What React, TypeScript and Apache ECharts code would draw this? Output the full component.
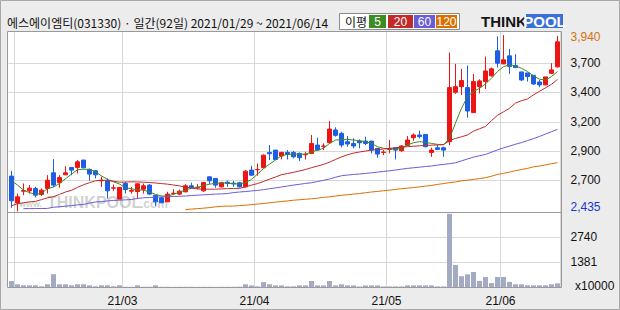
import React, { useEffect, useRef } from "react";
import * as echarts from "echarts";

const titleText = "에스에이엠티(031330) · 일간(92일) 2021/01/29 ~ 2021/06/14";

// [open, close, low, high] per trading day (2021/01/29 .. 2021/06/14)
const candles: number[][] = [
  [2736, 2525, 2465, 2781], [2507, 2559, 2435, 2587], [2607, 2613, 2573, 2673], [2610, 2633, 2587, 2659], [2630, 2573, 2553, 2644],
  [2579, 2616, 2567, 2630], [2630, 2701, 2587, 2744], [2764, 2659, 2644, 2881], [2679, 2724, 2636, 2744], [2747, 2764, 2747, 2821],
  [2810, 2787, 2744, 2810], [2810, 2858, 2758, 2873], [2873, 2807, 2801, 2873], [2793, 2753, 2696, 2801], [2781, 2747, 2716, 2787],
  [2696, 2701, 2644, 2730], [2696, 2610, 2544, 2716], [2633, 2636, 2610, 2664], [2539, 2639, 2539, 2639], [2673, 2621, 2587, 2687],
  [2607, 2613, 2587, 2644], [2604, 2670, 2545, 2673], [2624, 2653, 2587, 2673], [2659, 2582, 2573, 2667], [2573, 2516, 2482, 2573],
  [2550, 2508, 2508, 2559], [2516, 2582, 2516, 2602], [2587, 2590, 2573, 2624], [2582, 2607, 2573, 2621], [2602, 2653, 2596, 2667],
  [2653, 2639, 2630, 2679], [2636, 2641, 2624, 2667], [2610, 2681, 2602, 2687], [2730, 2696, 2667, 2730], [2716, 2659, 2636, 2716],
  [2644, 2679, 2639, 2687], [2684, 2673, 2644, 2696], [2676, 2670, 2644, 2696], [2679, 2644, 2639, 2687], [2644, 2778, 2639, 2787],
  [2787, 2744, 2739, 2824], [2790, 2793, 2739, 2844], [2807, 2915, 2807, 2921], [2938, 2927, 2873, 3001], [2958, 2878, 2873, 2958],
  [2907, 2938, 2878, 2944], [2938, 2921, 2878, 2958], [2938, 2901, 2887, 2950], [2930, 2893, 2864, 2938], [2918, 2921, 2878, 2944],
  [2930, 3015, 2924, 3087], [3001, 2958, 2958, 3064], [2990, 2993, 2958, 3015], [3021, 3138, 3015, 3206], [3130, 3084, 3073, 3152],
  [3101, 3001, 2981, 3115], [3030, 3010, 2987, 3078], [3015, 2993, 2973, 3058], [3035, 3021, 2973, 3050], [3035, 3015, 3001, 3072],
  [3035, 2958, 2930, 3035], [2973, 2924, 2893, 2973], [2938, 2941, 2915, 2958], [2964, 2970, 2930, 3044], [2978, 2958, 2878, 2978],
  [2953, 2993, 2944, 3001], [2998, 3044, 2993, 3078], [3064, 3087, 3038, 3101], [3087, 3073, 3058, 3124], [3092, 2987, 2981, 3092],
  [2938, 2958, 2901, 2978], [2978, 2964, 2958, 3001], [2978, 2958, 2901, 2987], [3030, 3492, 3001, 3791], [3452, 3500, 3438, 3694],
  [3500, 3552, 3429, 3652], [3492, 3292, 3235, 3680], [3278, 3543, 3278, 3609], [3500, 3549, 3443, 3563], [3543, 3634, 3480, 3757],
  [3592, 3652, 3586, 3663], [3806, 3700, 3663, 3930], [3694, 3729, 3694, 3940], [3763, 3671, 3609, 3823], [3680, 3663, 3663, 3777],
  [3626, 3557, 3549, 3626], [3617, 3586, 3543, 3617], [3597, 3523, 3515, 3597], [3540, 3515, 3495, 3557], [3515, 3583, 3515, 3583],
  [3614, 3643, 3609, 3700], [3669, 3883, 3663, 3934],
];

// volume, x10000 shares
const volumes: number[] = [
  365, 190, 135, 135, 135, 80, 190, 740, 190, 190,
  135, 190, 190, 135, 80, 135, 135, 80, 135, 55,
  55, 135, 55, 55, 135, 55, 55, 50, 55, 55,
  55, 50, 55, 55, 50, 55, 55, 55, 60, 190,
  130, 80, 310, 190, 130, 130, 80, 80, 130, 130,
  370, 130, 130, 370, 130, 190, 130, 130, 75, 130,
  130, 130, 75, 75, 75, 75, 130, 130, 130, 130,
  130, 75, 75, 4020, 1235, 630, 730, 860, 375, 585,
  255, 585, 585, 320, 190, 190, 135, 135, 135, 135,
  190, 240,
];

const ma5: (number | null)[] = [
  2697, 2659, 2616, 2595, 2580, 2587, 2630, 2642, 2673, 2713,
  2753, 2790, 2795, 2793, 2773, 2737, 2708, 2687, 2668, 2637,
  2627, 2619, 2616, 2600, 2580, 2566, 2565, 2580, 2598, 2619,
  2632, 2640, 2654, 2667, 2673, 2679, 2676, 2670, 2668, 2681,
  2707, 2753, 2801, 2838, 2873, 2910, 2921, 2924, 2924, 2924,
  2941, 2958, 2973, 3015, 3044, 3047, 3050, 3044, 3038, 3030,
  3015, 2987, 2973, 2967, 2967, 2973, 3001, 3021, 3030, 3024,
  3015, 3007, 3004, 3058, 3190, 3315, 3415, 3457, 3486, 3523,
  3572, 3629, 3671, 3686, 3677, 3657, 3629, 3592, 3563, 3557,
  3586, 3629,
];

const ma20: (number | null)[] = [
  2483, 2500, 2508, 2516, 2520, 2535, 2550, 2560, 2580, 2600,
  2615, 2640, 2662, 2680, 2696, 2700, 2700, 2692, 2684, 2685,
  2687, 2686, 2684, 2681, 2677, 2672, 2667, 2660, 2652, 2643,
  2633, 2626, 2624, 2624, 2624, 2626, 2629, 2630, 2631, 2644,
  2659, 2672, 2690, 2710, 2728, 2748, 2758, 2768, 2780, 2792,
  2808, 2822, 2836, 2855, 2878, 2900, 2918, 2932, 2942, 2950,
  2958, 2963, 2968, 2973, 2977, 2983, 2987, 2991, 2995, 2998,
  3000, 3002, 3005, 3040, 3058, 3072, 3087, 3120, 3140, 3160,
  3210, 3255, 3285, 3315, 3360, 3380, 3395, 3430, 3460, 3490,
  3520, 3562,
];

const ma60: (number | null)[] = [
  null, null, 2458, 2458, 2459, 2459, 2460, 2470, 2474, 2479,
  2484, 2490, 2494, 2505, 2515, 2519, 2524, 2528, 2530, 2533,
  2536, 2545, 2551, 2553, 2556, 2558, 2560, 2562, 2564, 2566,
  2570, 2573, 2576, 2579, 2582, 2584, 2587, 2595, 2600, 2604,
  2609, 2614, 2620, 2628, 2635, 2643, 2651, 2659, 2666, 2673,
  2679, 2690, 2700, 2711, 2726, 2739, 2745, 2750, 2754, 2759,
  2764, 2770, 2776, 2781, 2788, 2795, 2802, 2807, 2812, 2818,
  2822, 2830, 2836, 2842, 2850, 2866, 2882, 2898, 2910, 2921,
  2940, 2960, 2977, 2992, 3008, 3022, 3039, 3056, 3075, 3095,
  3115, 3135,
];

const ma120: (number | null)[] = [
  null, null, null, null, null, null, null, null, null, null,
  null, null, null, null, null, null, null, null, null, null,
  null, null, null, null, null, null, null, null, null, 2450,
  2454, 2458, 2462, 2467, 2473, 2478, 2479, 2480, 2484, 2487,
  2492, 2497, 2502, 2508, 2514, 2519, 2524, 2530, 2534, 2538,
  2542, 2548, 2554, 2559, 2566, 2572, 2577, 2582, 2587, 2594,
  2600, 2605, 2611, 2616, 2622, 2628, 2633, 2638, 2644, 2650,
  2656, 2665, 2672, 2680, 2686, 2695, 2701, 2708, 2715, 2722,
  2735, 2750, 2760, 2770, 2782, 2792, 2802, 2815, 2822, 2832,
  2842, 2850,
];

const priceTickValues = [3700, 3450, 3200, 2950, 2700];
const priceTickLabels = ["3,700", "3,400", "3,200", "2,900", "2,700"];
const priceHigh = 3940;
const priceHighLabel = "3,940";
const priceLow = 2435;
const priceLowLabel = "2,435";
const volTickValues = [2740, 1381];
const volTickLabels = ["2740", "1381"];
const volUnitLabel = "x10000";
const monthGridIdx = [1, 19, 41, 63, 82];
const monthLabelIdx = [19, 41, 63, 82];
const monthLabels = ["21/03", "21/04", "21/05", "21/06"];
const maNames = ["5", "20", "60", "120"];
const legendTitle = "이평";

const UP = "#ee1414";
const DOWN = "#1c5ee6";
const MA_COLORS = ["#3c8c22", "#c22a2a", "#6a5bd8", "#dc6e00"];
const GRID = "#d8d8d8";
const FRAME = "#9a9a9a";
const CLEAR = "rgba(255,255,255,0)";
const NUM_FONT = '"Liberation Sans", Arial, sans-serif';
const KR_FONT = '"Noto Sans CJK KR", sans-serif';

const dayIdx = candles.map((_, i) => String(i));

function buildOption(): any {
  const maSeries = [ma5, ma20, ma60, ma120].map((d, k) => ({
    type: "line",
    name: "MA" + maNames[k],
    xAxisIndex: 0,
    yAxisIndex: 0,
    data: d,
    showSymbol: false,
    symbol: "none",
    z: 4,
    silent: true,
    lineStyle: { color: MA_COLORS[k], width: 1 },
  }));

  const markLabel = {
    show: true,
    position: "end",
    distance: 10,
    color: "#111",
    fontSize: 12,
    fontFamily: NUM_FONT,
  };

  const legendX = [369, 388, 414, 436];
  const legendW = [17, 25, 21, 21];

  return {
    animation: false,
    backgroundColor: "#ececec",
    grid: [
      { left: 8.5, top: 31.5, width: 552, height: 181, outerBoundsMode: "none" },
      { left: 8.5, top: 212.5, width: 552, height: 75.3, outerBoundsMode: "none" },
    ],
    xAxis: [
      {
        type: "category",
        gridIndex: 0,
        data: dayIdx,
        boundaryGap: true,
        axisLine: { show: false },
        axisTick: { show: false },
        axisLabel: { show: false },
        splitLine: { show: true, interval: (i: number) => monthGridIdx.includes(i), lineStyle: { color: GRID, width: 1 } },
      },
      {
        type: "category",
        gridIndex: 1,
        data: dayIdx,
        boundaryGap: true,
        axisLine: { show: false },
        axisTick: { show: false },
        axisLabel: {
          show: true,
          interval: (i: number) => monthLabelIdx.includes(i),
          formatter: (_v: string, i: number) => {
            const k = monthLabelIdx.indexOf(i);
            return k >= 0 ? monthLabels[k] : "";
          },
          margin: 7,
          color: "#111",
          fontSize: 12,
          fontFamily: NUM_FONT,
          padding: [0, 6, 0, 0],
        },
        splitLine: { show: true, interval: (i: number) => monthGridIdx.includes(i), lineStyle: { color: GRID, width: 1 } },
      },
    ],
    yAxis: [
      {
        type: "value",
        gridIndex: 0,
        min: 2425,
        max: 3971,
        axisLine: { show: false },
        axisTick: { show: false },
        axisLabel: { show: false },
        splitLine: { show: false },
      },
      {
        type: "value",
        gridIndex: 1,
        min: 0,
        max: 4090,
        axisLine: { show: false },
        axisTick: { show: false },
        axisLabel: { show: false },
        splitLine: { show: false },
      },
    ],
    series: [
      {
        type: "line",
        xAxisIndex: 0,
        yAxisIndex: 0,
        data: [],
        z: 1,
        silent: true,
        markLine: {
          silent: true,
          symbol: "none",
          z: 1,
          animation: false,
          lineStyle: { color: GRID, width: 1, type: "solid" },
          label: markLabel,
          emphasis: { disabled: true },
          data: [
            ...priceTickValues.map((v, k) => ({ yAxis: v, label: { formatter: priceTickLabels[k] } })),
            { yAxis: priceHigh, lineStyle: { color: CLEAR }, label: { formatter: priceHighLabel, color: "#d4730f", offset: [0, 2] } },
            { yAxis: priceLow, lineStyle: { color: CLEAR }, label: { formatter: priceLowLabel, color: "#1a35d0", offset: [0, -4] } },
          ],
        },
      },
      {
        type: "line",
        xAxisIndex: 1,
        yAxisIndex: 1,
        data: [],
        z: 1,
        silent: true,
        markLine: {
          silent: true,
          symbol: "none",
          z: 1,
          animation: false,
          lineStyle: { color: GRID, width: 1, type: "solid" },
          label: markLabel,
          emphasis: { disabled: true },
          data: volTickValues.map((v, k) => ({ yAxis: v, label: { formatter: volTickLabels[k] } })),
        },
      },
      {
        type: "candlestick",
        xAxisIndex: 0,
        yAxisIndex: 0,
        data: candles,
        barWidth: 4,
        z: 3,
        silent: true,
        itemStyle: { color: UP, color0: DOWN, borderColor: UP, borderColor0: DOWN, borderWidth: 1 },
      },
      ...maSeries,
      {
        type: "bar",
        xAxisIndex: 1,
        yAxisIndex: 1,
        data: volumes,
        barWidth: 5,
        z: 3,
        silent: true,
        itemStyle: { color: "#a2aac4" },
      },
    ],
    graphic: [
      { type: "rect", z: -20, silent: true, shape: { x: 0.5, y: 0.5, width: 619, height: 309 }, style: { fill: "#ececec", stroke: "#a8a8a8", lineWidth: 1 } },
      { type: "rect", z: -10, silent: true, shape: { x: 7.5, y: 31.5, width: 554, height: 256 }, style: { fill: "#ffffff" } },
      { type: "rect", z: 50, silent: true, shape: { x: 7.5, y: 31.5, width: 554, height: 256 }, style: { fill: "none", stroke: FRAME, lineWidth: 1 } },
      { type: "line", z: 50, silent: true, shape: { x1: 7.5, y1: 212.5, x2: 561.5, y2: 212.5 }, style: { stroke: FRAME, lineWidth: 1 } },
      {
        type: "text", z: 2, silent: true, x: 19, y: 204,
        style: { text: "www.", fill: "rgba(150,150,150,0.45)", font: `bold 9px ${NUM_FONT}`, verticalAlign: "middle" },
      },
      {
        type: "text", z: 2, silent: true, x: 47, y: 202,
        style: { text: "THINKPOOL", fill: "rgba(150,150,150,0.45)", font: `bold 16px ${NUM_FONT}`, verticalAlign: "middle" },
      },
      {
        type: "text", z: 2, silent: true, x: 140, y: 204,
        style: { text: ".com", fill: "rgba(150,150,150,0.45)", font: `bold 12px ${NUM_FONT}`, verticalAlign: "middle" },
      },
      {
        type: "text", z: 20, silent: true, x: 7, y: 22,
        style: { text: titleText, fill: "#111", font: `12px ${KR_FONT}`, verticalAlign: "middle" },
      },
      { type: "rect", z: 20, silent: true, shape: { x: 339.5, y: 13.5, width: 120, height: 16 }, style: { fill: "#fff", stroke: "#8a8a8a", lineWidth: 1 } },
      {
        type: "text", z: 21, silent: true, x: 345, y: 21.5,
        style: { text: legendTitle, fill: "#111", font: `12px ${KR_FONT}`, verticalAlign: "middle" },
      },
      ...maNames.flatMap((n, k) => [
        { type: "rect", z: 21, silent: true, shape: { x: legendX[k], y: 15, width: legendW[k], height: 13 }, style: { fill: MA_COLORS[k] } },
        {
          type: "text", z: 22, silent: true, x: legendX[k] + legendW[k] / 2, y: 21.5,
          style: { text: n, fill: "#fff", font: `12px ${NUM_FONT}`, align: "center", verticalAlign: "middle" },
        },
      ]),
      {
        type: "text", z: 20, silent: true, x: 481, y: 21,
        style: { text: "THINK", fill: "#151515", font: `bold 15px ${NUM_FONT}`, verticalAlign: "middle" },
      },
      { type: "rect", z: 20, silent: true, shape: { x: 526, y: 14, width: 37, height: 14 }, style: { fill: "#3a6fd8" } },
      {
        type: "text", z: 21, silent: true, x: 544.5, y: 21,
        style: { text: "POOL", fill: "#fff", font: `bold 15px ${NUM_FONT}`, align: "center", verticalAlign: "middle" },
      },
      {
        type: "text", z: 20, silent: true, x: 575, y: 286,
        style: { text: volUnitLabel, fill: "#111", font: `12px ${NUM_FONT}`, verticalAlign: "middle" },
      },
    ],
  };
}

export default function App() {
  const ref = useRef<HTMLDivElement>(null);
  useEffect(() => {
    if (!ref.current) return;
    const chart = echarts.init(ref.current, null, { renderer: "svg" });
    chart.setOption(buildOption());
    return () => chart.dispose();
  }, []);
  return <div ref={ref} style={{ position: "fixed", left: 0, top: 0, width: 620, height: 310 }} />;
}
